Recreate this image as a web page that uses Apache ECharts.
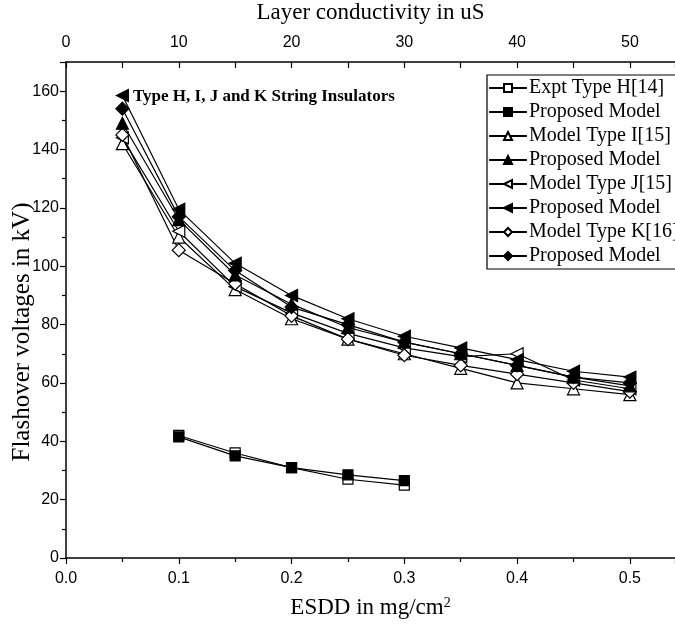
<!DOCTYPE html>
<html><head><meta charset="utf-8">
<script src="https://cdn.jsdelivr.net/npm/echarts@6/dist/echarts.min.js"></script>
<style>html,body{margin:0;padding:0;background:#fff}#c{width:675px;height:624px}</style>
</head><body><div id="c"></div>
<script>
const xFull = [0.05,0.10,0.15,0.20,0.25,0.30,0.35,0.40,0.45,0.50];
const xH = [0.10,0.15,0.20,0.25,0.30];
const exptH = [42,36,31,27,25];
const propH = [41.5,35,31,28.5,26.5];
const modelI = [142,110,92,82,75,70,65,60,58,56];
const propI = [149,116,97,87,79,74,70,66,62,59];
const modelJ = [144,112,93,84,77,72,69,70,61,58];
const propJ = [158.5,119.5,101,90,82,76,72,68,64,62];
const modelK = [145,105.5,94,83,75,69.5,66,63,60,57];
const propK = [154,117,98.5,86,80,74,70,66,62,60];
const names = ['Expt Type H[14]','Proposed Model','Model Type I[15]','Proposed Model ','Model Type J[15]','Proposed Model  ','Model Type K[16]','Proposed Model   '];

const leftTri = 'path://M0,5L9,0L9,10Z';
function mk(name, xs, ys, symbol, filled, size){
  return {
    name: name, type:'line', xAxisIndex:0, yAxisIndex:0,
    data: xs.map((x,i)=>[x, ys[i]]),
    symbol: symbol, symbolSize: size, showSymbol:true,
    lineStyle:{color:'#000', width:1.2},
    itemStyle:{color: filled ? '#000' : '#fff', borderColor:'#000', borderWidth:1.2},
    emphasis:{disabled:true}, animation:false, z: filled?3:2
  };
}
const series = [
  mk(names[0], xH, exptH, 'rect', false, 10),
  mk(names[1], xH, propH, 'rect', true, 10),
  mk(names[2], xFull, modelI, 'triangle', false, 12),
  mk(names[3], xFull, propI, 'triangle', true, 12),
  mk(names[4], xFull, modelJ, leftTri, false, 12),
  mk(names[5], xFull, propJ, leftTri, true, 12),
  mk(names[6], xFull, modelK, 'diamond', false, 13),
  mk(names[7], xFull, propK, 'diamond', true, 13)
];

const chart = echarts.init(document.getElementById('c'));
const sans = '"Liberation Sans", Arial, sans-serif', serif = '"Liberation Serif", serif';
const tickFont = {fontFamily:sans, fontSize:16, color:'#000'};
chart.setOption({
  backgroundColor:'#fff',
  animation:false,
  grid:{left:66, right:0, top:62, bottom:66, containLabel:false, outerBoundsMode:'none'},
  xAxis:[{
    type:'value', min:0, max:0.54, interval:0.1, position:'bottom',
    name:'ESDD in mg/cm{sup|2}', nameLocation:'middle', nameGap:38,
    nameTextStyle:{fontFamily:serif, fontSize:23, color:'#000',
      rich:{sup:{fontFamily:serif, fontSize:14, color:'#000', verticalAlign:'top', padding:[0,0,9,0]}}},
    axisLine:{show:true, onZero:false, lineStyle:{color:'#000', width:1.5}},
    axisTick:{show:true, inside:false, length:6, lineStyle:{color:'#000', width:1.2}},
    minorTick:{show:true, splitNumber:2, length:4, lineStyle:{color:'#000', width:1.2}},
    axisLabel:Object.assign({margin:13, showMaxLabel:false, formatter:v=>v.toFixed(1)}, tickFont),
    splitLine:{show:false}
  },{
    type:'value', min:0, max:54, interval:10, position:'top',
    name:'Layer conductivity in uS', nameLocation:'middle', nameGap:38,
    nameTextStyle:{fontFamily:serif, fontSize:23, color:'#000'},
    axisLine:{show:true, onZero:false, lineStyle:{color:'#000', width:1.5}},
    axisTick:{show:true, inside:true, length:6, lineStyle:{color:'#000', width:1.2}},
    minorTick:{show:true, splitNumber:2, length:6, lineStyle:{color:'#000', width:1.2}},
    axisLabel:Object.assign({margin:11, showMaxLabel:false}, tickFont),
    splitLine:{show:false}
  }],
  yAxis:[{
    type:'value', min:0, max:170, interval:20,
    name:'Flashover voltages in kV)', nameLocation:'middle', nameGap:31, nameMoveOverlap:false,
    nameTextStyle:{fontFamily:serif, fontSize:25, color:'#000', padding:[0,44,0,0]},
    axisLine:{show:true, onZero:false, lineStyle:{color:'#000', width:1.5}},
    axisTick:{show:true, inside:false, length:6, lineStyle:{color:'#000', width:1.2}},
    minorTick:{show:true, splitNumber:2, length:4, lineStyle:{color:'#000', width:1.2}},
    axisLabel:Object.assign({margin:7, showMaxLabel:false}, tickFont),
    splitLine:{show:false}
  }],
  legend:{
    show:true, orient:'vertical', left:487, top:75,
    data:names,
    itemWidth:38, itemHeight:10, itemGap:4,
    padding:[3,20,3,1],
    borderColor:'#000', borderWidth:1.2, backgroundColor:'#fff',
    textStyle:{fontFamily:serif, fontSize:20, color:'#000', lineHeight:20, padding:[0,0,0,-3]},
    selectedMode:false
  },
  graphic:[{
    type:'text', left:133, top:88,
    style:{text:'Type H, I, J and K String Insulators', fontFamily:serif, fontSize:17, fontWeight:'bold', fill:'#000'}
  }],
  series:series
});
</script></body></html>
